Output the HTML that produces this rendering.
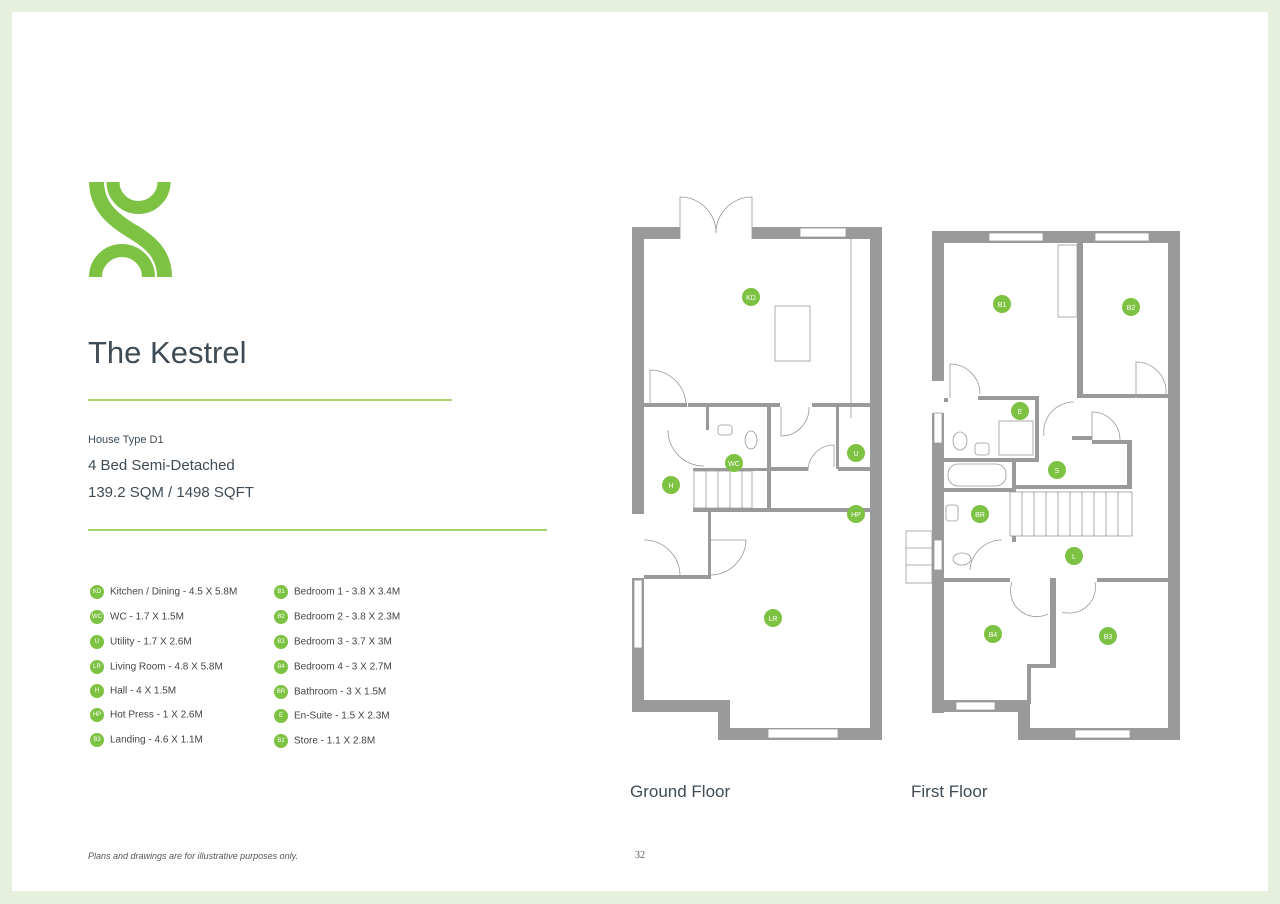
<!DOCTYPE html>
<html><head><meta charset="utf-8"><style>
body{margin:0;background:#e6f0dc;font-family:"Liberation Sans",sans-serif;}
#pg{position:absolute;left:12px;top:12px;width:1256px;height:879px;background:#fff;}
.t{position:absolute;color:#3f4b55;white-space:nowrap}
.leg{position:absolute;font-size:10px;color:#444;white-space:nowrap}
.leg b{display:inline-block;width:14px;height:14px;border-radius:50%;background:#7dc242;color:#fff;font-size:6px;line-height:14px;text-align:center;font-weight:normal;vertical-align:middle;margin-right:6px}
</style></head><body>
<div id="pg"></div>
<svg style="position:absolute;left:0;top:0" width="1280" height="904">
<g fill="none" stroke="#7dc242">
<path d="M96.5 182 C97 207 113 220 135 233 C155 245 164.5 258 164.5 277" stroke-width="15"/>
<path d="M113 182 A25.5 25.5 0 0 0 164 182" stroke-width="13"/>
<path d="M95.5 277 A26.5 26.5 0 0 1 148.5 277" stroke-width="13"/>
</g>
<line x1="88" y1="400" x2="452" y2="400" stroke="#8cc63f" stroke-width="1.5"/>
<line x1="88" y1="530" x2="547" y2="530" stroke="#8cc63f" stroke-width="1.5"/>
<!-- ground floor -->
<g fill="#9a9a9a">
<rect x="632" y="227" width="48" height="12"/><rect x="752" y="227" width="130" height="12"/>
<rect x="632" y="227" width="12" height="287"/><rect x="870" y="227" width="12" height="513"/>
<rect x="632" y="578" width="12" height="134"/><rect x="632" y="700" width="98" height="12"/>
<rect x="718" y="700" width="12" height="40"/><rect x="718" y="728" width="164" height="12"/>
<rect x="644" y="403" width="43" height="4"/><rect x="688" y="403" width="92" height="4"/><rect x="812" y="403" width="58" height="4"/>
<rect x="706" y="405" width="3" height="25"/><rect x="767" y="405" width="4" height="103"/>
<rect x="771" y="467" width="37" height="4"/><rect x="838" y="467" width="32" height="4"/>
<rect x="836" y="405" width="3" height="64"/>
<rect x="693" y="508" width="180" height="4"/><rect x="644" y="575" width="66" height="4"/>
<rect x="708" y="512" width="3" height="67"/>
<rect x="693" y="468" width="76" height="3"/>
</g>
<g fill="#fff" stroke="#999" stroke-width="0.8">
<rect x="800" y="228" width="46" height="9"/><rect x="768" y="729" width="70" height="9"/><rect x="634" y="580" width="8" height="68"/>
<rect x="775" y="306" width="35" height="55"/>
<rect x="694" y="471" width="58" height="37"/>
</g>
<g fill="none" stroke="#999" stroke-width="0.8">
<line x1="851" y1="238" x2="851" y2="418"/>
<line x1="706" y1="471" x2="706" y2="508"/><line x1="718" y1="471" x2="718" y2="508"/><line x1="730" y1="471" x2="730" y2="508"/><line x1="742" y1="471" x2="742" y2="508"/>
<path d="M680 239 L680 197 A36 36 0 0 1 716 233 A36 36 0 0 1 752 197 L752 239"/>
<path d="M650 407 L650 370 A36 36 0 0 1 686 406"/>
<path d="M668 430 A36 36 0 0 0 704 466"/>
<path d="M781 407 L781 436 A28 28 0 0 0 809 407"/>
<path d="M808 471 A26 26 0 0 1 834 445 L834 467"/>
<path d="M644 540 A36 36 0 0 1 680 576"/>
<path d="M710 575 A36 36 0 0 0 746 540 L710 540"/>
<rect x="718" y="425" width="14" height="10" rx="3"/><ellipse cx="751" cy="440" rx="6" ry="9"/>
</g>
<!-- first floor -->
<g fill="#9a9a9a">
<rect x="932" y="231" width="248" height="12"/>
<rect x="932" y="231" width="12" height="150"/><rect x="932" y="413" width="12" height="300"/>
<rect x="1168" y="231" width="12" height="509"/>
<rect x="932" y="700" width="98" height="12"/><rect x="1018" y="700" width="12" height="40"/><rect x="1018" y="728" width="162" height="12"/>
<rect x="1077" y="243" width="6" height="155"/><rect x="1083" y="394" width="85" height="4"/>
<rect x="944" y="398" width="4" height="4"/><rect x="978" y="396" width="61" height="4"/><rect x="1035" y="396" width="4" height="66"/>
<rect x="944" y="458" width="95" height="4"/><rect x="944" y="488" width="72" height="4"/><rect x="1012" y="462" width="4" height="80"/>
<rect x="1016" y="485" width="116" height="4"/><rect x="1127" y="440" width="5" height="49"/><rect x="1092" y="440" width="40" height="4"/>
<rect x="1072" y="436" width="20" height="4"/>
<rect x="944" y="578" width="66" height="4"/><rect x="1050" y="578" width="6" height="90"/><rect x="1030" y="664" width="26" height="4"/><rect x="1027" y="664" width="4" height="40"/>
<rect x="1097" y="578" width="71" height="4"/>
</g>
<g fill="#fff" stroke="#999" stroke-width="0.8">
<rect x="989" y="233" width="54" height="8"/><rect x="1095" y="233" width="54" height="8"/>
<rect x="956" y="702" width="39" height="8"/><rect x="1075" y="730" width="55" height="8"/>
<rect x="934" y="413" width="8" height="30"/><rect x="934" y="540" width="8" height="30"/>
<rect x="1058" y="245" width="19" height="72"/>
<rect x="1010" y="492" width="122" height="44"/>
<rect x="948" y="464" width="58" height="22" rx="10"/>
<rect x="999" y="421" width="34" height="34"/>
<rect x="906" y="531" width="26" height="52"/>
</g>
<g fill="none" stroke="#999" stroke-width="0.8">
<line x1="1022" y1="492" x2="1022" y2="536"/><line x1="1034" y1="492" x2="1034" y2="536"/><line x1="1046" y1="492" x2="1046" y2="536"/><line x1="1058" y1="492" x2="1058" y2="536"/><line x1="1070" y1="492" x2="1070" y2="536"/><line x1="1082" y1="492" x2="1082" y2="536"/><line x1="1094" y1="492" x2="1094" y2="536"/><line x1="1106" y1="492" x2="1106" y2="536"/><line x1="1118" y1="492" x2="1118" y2="536"/>
<line x1="906" y1="548" x2="932" y2="548"/><line x1="906" y1="565" x2="932" y2="565"/>
<path d="M950 398 L950 364 A30 30 0 0 1 980 394"/>
<path d="M1136 398 L1136 362 A30 30 0 0 1 1166 394"/>
<path d="M1044 436 A30 30 0 0 1 1074 402"/>
<path d="M1092 440 L1092 412 A28 28 0 0 1 1120 440"/>
<path d="M970 570 A32 32 0 0 1 1002 540"/>
<path d="M1012 582 A26 26 0 0 0 1048 614"/><path d="M1062 612 A26 26 0 0 0 1095 582"/>
<ellipse cx="960" cy="441" rx="7" ry="9"/><rect x="975" y="443" width="14" height="12" rx="3"/>
<rect x="946" y="505" width="12" height="16" rx="3"/><ellipse cx="962" cy="559" rx="9" ry="6"/>
</g>
<g fill="#7dc242"><circle cx="751" cy="297" r="9"/><circle cx="734" cy="463" r="9"/><circle cx="671" cy="485" r="9"/><circle cx="856" cy="453" r="9"/><circle cx="856" cy="514" r="9"/><circle cx="773" cy="618" r="9"/>
<circle cx="1002" cy="304" r="9"/><circle cx="1131" cy="307" r="9"/><circle cx="1020" cy="411" r="9"/><circle cx="1057" cy="470" r="9"/><circle cx="980" cy="514" r="9"/><circle cx="1074" cy="556" r="9"/><circle cx="993" cy="634" r="9"/><circle cx="1108" cy="636" r="9"/></g>
<g fill="#fff" font-size="7" text-anchor="middle" font-family="Liberation Sans"><text x="751" y="300">KD</text><text x="734" y="466">WC</text><text x="671" y="488">H</text><text x="856" y="456">U</text><text x="856" y="517">HP</text><text x="773" y="621">LR</text>
<text x="1002" y="307">B1</text><text x="1131" y="310">B2</text><text x="1020" y="414">E</text><text x="1057" y="473">S</text><text x="980" y="517">BR</text><text x="1074" y="559">L</text><text x="993" y="637">B4</text><text x="1108" y="639">B3</text></g>
</svg>
<div class="t" style="left:88px;top:335px;font-size:31px">The Kestrel</div>
<div class="t" style="left:88px;top:434px;font-size:11px">House Type D1</div>
<div class="t" style="left:88px;top:457px;font-size:15px">4 Bed Semi-Detached</div>
<div class="t" style="left:88px;top:484px;font-size:15px">139.2 SQM / 1498 SQFT</div>
<div class="leg" style="left:90px;top:585px"><b>KD</b>Kitchen / Dining - 4.5 X 5.8M</div>
<div class="leg" style="left:90px;top:610px"><b>WC</b>WC - 1.7 X 1.5M</div>
<div class="leg" style="left:90px;top:635px"><b>U</b>Utility - 1.7 X 2.6M</div>
<div class="leg" style="left:90px;top:660px"><b>LR</b>Living Room - 4.8 X 5.8M</div>
<div class="leg" style="left:90px;top:684px"><b>H</b>Hall - 4 X 1.5M</div>
<div class="leg" style="left:90px;top:708px"><b>HP</b>Hot Press - 1 X 2.6M</div>
<div class="leg" style="left:90px;top:733px"><b>B3</b>Landing - 4.6 X 1.1M</div>
<div class="leg" style="left:274px;top:585px"><b>B1</b>Bedroom 1 - 3.8 X 3.4M</div>
<div class="leg" style="left:274px;top:610px"><b>B2</b>Bedroom 2 - 3.8 X 2.3M</div>
<div class="leg" style="left:274px;top:635px"><b>B3</b>Bedroom 3 - 3.7 X 3M</div>
<div class="leg" style="left:274px;top:660px"><b>B4</b>Bedroom 4 - 3 X 2.7M</div>
<div class="leg" style="left:274px;top:685px"><b>BR</b>Bathroom - 3 X 1.5M</div>
<div class="leg" style="left:274px;top:709px"><b>E</b>En-Suite - 1.5 X 2.3M</div>
<div class="leg" style="left:274px;top:734px"><b>B1</b>Store - 1.1 X 2.8M</div>
<div class="t" style="left:630px;top:782px;font-size:17px">Ground Floor</div>
<div class="t" style="left:911px;top:782px;font-size:17px">First Floor</div>
<div class="t" style="left:88px;top:851px;font-size:9px;font-style:italic;color:#555">Plans and drawings are for illustrative purposes only.</div>
<div class="t" style="left:635px;top:850px;font-size:10px;font-family:'Liberation Serif',serif;color:#555">32</div>
</body></html>
